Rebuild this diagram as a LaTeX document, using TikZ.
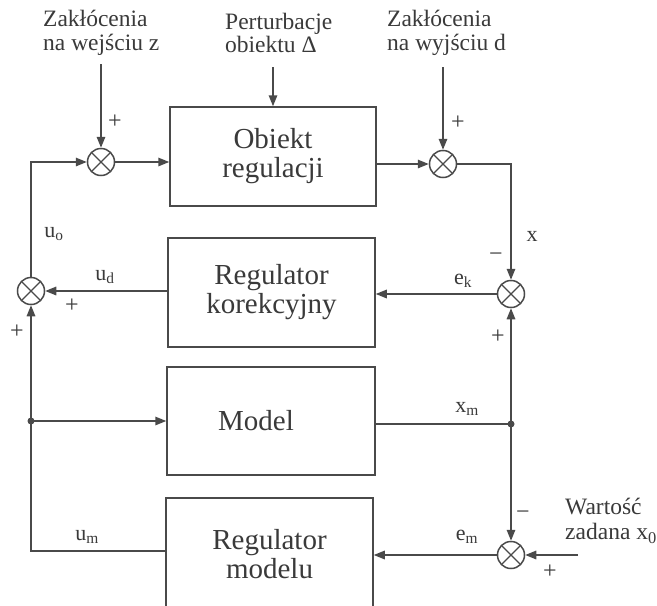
\documentclass[tikz,border=0pt]{standalone}
\usepackage{fontspec}
\setmainfont{Liberation Serif}
\usetikzlibrary{arrows.meta,calc}
\definecolor{ink}{HTML}{4a4a4a}
\definecolor{txt}{HTML}{3a3a3a}

\begin{document}
\begin{tikzpicture}[x=1pt,y=-1pt,
  line/.style={draw=ink,line width=1.5pt},
  arr/.style={line,-{Triangle[length=11pt,width=8.5pt]}},
  block/.style={draw=ink,line width=1.5pt,rectangle,align=center,text=txt,
    font=\fontsize{29}{29}\selectfont,inner sep=0pt},
  summer/.style={draw=ink,line width=1.5pt,circle,minimum size=27pt,inner sep=0pt,
    path picture={\draw[ink,line width=1.2pt]
      (path picture bounding box.south west) -- (path picture bounding box.north east)
      (path picture bounding box.north west) -- (path picture bounding box.south east);}},
  caption/.style={text=txt,font=\fontsize{23.5}{23.5}\selectfont,align=left,anchor=west,inner sep=0pt},
  lab/.style={text=txt,font=\fontsize{22}{24}\selectfont,inner sep=0pt},
  sign/.style={text=txt,font=\fontsize{24}{24}\selectfont,inner sep=0pt},
  junction/.style={fill=ink}]

\fill[white] (0,0) rectangle (657,606);
\useasboundingbox (0,0) rectangle (657,606);

% blocks
\node[block,minimum width=206pt,minimum height=99pt]  (obj)  at (273,156.5) {Obiekt\\regulacji};
\node[block,minimum width=207pt,minimum height=109pt] (kor)  at (271.5,292.5) {Regulator\\korekcyjny};
\node[block,minimum width=208pt,minimum height=108pt] (mod)  at (271,421) {\hspace*{-30pt}Model};
\node[block,minimum width=207pt,minimum height=112pt] (rmod) at (269.5,554) {Regulator\\modelu};

% summing junctions
\node[summer] (s1) at (101,162) {};
\node[summer] (s2) at (443,164) {};
\node[summer] (s3) at (511,294) {};
\node[summer] (sL) at (31,291) {};
\node[summer] (s4) at (511,555) {};

% inputs and branch points
\coordinate (zin) at (101,64);
\coordinate (pin) at (273,67);
\coordinate (din) at (443,67);
\coordinate (x0in) at (578,555);
\coordinate (dl) at (31,421);
\coordinate (dr) at (511,424);
\coordinate (umc) at (31,551);

% captions
\node[caption] (cz) at (43,33) {Zakłócenia\\na wejściu z};
\node[caption] (cp) at (225,33) {Perturbacje\\obiektu Δ};
\node[caption] (cd) at (387,33) {Zakłócenia\\na wyjściu d};
\node[caption,font=\fontsize{23.5}{25}\selectfont] (cx) at (565,521) {Wartość\\zadana x\textsubscript{0}};

% forward path
\draw[arr] (zin) -- (s1.north);
\draw[arr] (s1.east) -- (s1.east -| obj.west);
\draw[arr] (pin) -- (pin |- obj.north);
\draw[arr] (obj.east |- s2) -- (s2.west);
\draw[arr] (din) -- (s2.north);
\draw[arr] (s2.east) -| (s3.north);
\draw[arr] (s3.west) -- (s3.west -| kor.east);
\draw[arr] (kor.west |- sL) -- (sL.east);
\draw[arr] (sL.north) |- (s1.west);

% model loop
\draw[line] (umc -| rmod.west) -- (umc) -- (dl);
\draw[arr] (dl) -- (sL.south);
\draw[arr] (dl) -- (dl -| mod.west);
\draw[line] (mod.east |- dr) -- (dr);
\draw[arr] (dr) -- (s3.south);
\draw[arr] (dr) -- (s4.north);
\draw[arr] (s4.west) -- (s4.west -| rmod.east);
\draw[arr] (x0in) -- (s4.east);
\fill[junction] (dl) circle (3.5pt);
\fill[junction] (dr) circle (3.5pt);

% signal labels
\node[lab] (lx)  at (532,236) {x};
\node[lab] (lek) at (463,281) {e\textsubscript{k}};
\node[lab] (luo) at (54,234) {u\textsubscript{o}};
\node[lab] (lud) at (105,277) {u\textsubscript{d}};
\node[lab] (lxm) at (467,409) {x\textsubscript{m}};
\node[lab] (lum) at (87,537) {u\textsubscript{m}};
\node[lab] (lem) at (467,537) {e\textsubscript{m}};

% signs
\node[sign] at (115,122) {+};
\node[sign] at (458,123) {+};
\node[sign] at (496,257) {−};
\node[sign] at (498,337) {+};
\node[sign] at (72,306) {+};
\node[sign] at (17,332) {+};
\node[sign] at (523,515) {−};
\node[sign] at (550,572) {+};
\end{tikzpicture}
\end{document}
